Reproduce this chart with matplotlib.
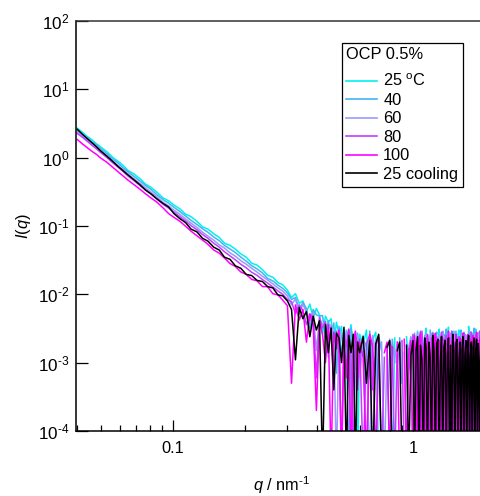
import numpy as np
import matplotlib
matplotlib.use("Agg")
import matplotlib.pyplot as plt
from matplotlib.ticker import FixedLocator, FixedFormatter, NullLocator, LogLocator, NullFormatter

plt.rcParams['font.family'] = ['Liberation Sans', 'DejaVu Sans']
plt.rcParams['mathtext.fontset'] = 'custom'
plt.rcParams['mathtext.rm'] = 'Liberation Sans'
plt.rcParams['mathtext.it'] = 'Liberation Sans:italic'
plt.rcParams['mathtext.bf'] = 'Liberation Sans:bold'

# ---------------- data ----------------
q_low = [0.040, 0.042, 0.044, 0.046, 0.048, 0.050, 0.053, 0.056, 0.059, 0.062,
         0.065, 0.069, 0.073, 0.077, 0.081, 0.086, 0.091, 0.096, 0.101, 0.107,
         0.113, 0.119, 0.126, 0.133, 0.140, 0.148, 0.156, 0.164, 0.173, 0.182,
         0.192, 0.202, 0.213, 0.224, 0.236, 0.248, 0.261, 0.274, 0.287]
q_mid = [0.300, 0.312, 0.324, 0.336, 0.348, 0.360, 0.372, 0.384, 0.396, 0.408,
         0.420, 0.432, 0.444, 0.456, 0.468, 0.480, 0.492, 0.504, 0.516, 0.528,
         0.540, 0.552, 0.564, 0.576, 0.588,
         0.60, 0.62, 0.64, 0.66, 0.68, 0.70, 0.72, 0.74, 0.76, 0.78,
         0.80, 0.82, 0.84, 0.86, 0.88, 0.90, 0.92, 0.94, 0.96, 0.98]
q_tail = [1.000, 1.015, 1.030, 1.045, 1.060, 1.075, 1.090, 1.105, 1.120, 1.135, 1.150, 1.165, 1.180,
          1.195, 1.210, 1.225, 1.240, 1.255, 1.270, 1.285, 1.300, 1.315, 1.330, 1.345, 1.360, 1.375,
          1.390, 1.405, 1.420, 1.435, 1.450, 1.465, 1.480, 1.495, 1.510, 1.525, 1.540, 1.555, 1.570,
          1.585, 1.600, 1.615, 1.630, 1.645, 1.660, 1.675, 1.690, 1.705, 1.720, 1.735, 1.750, 1.765,
          1.780, 1.795, 1.810, 1.825, 1.840, 1.855, 1.870, 1.885, 1.900, 1.915, 1.930, 1.945, 1.960]

labels = ['25 $^{\\mathrm{o}}$C', '40', '60', '80', '100', '25 cooling']
colors = ['#00f0f0', '#45b4f0', '#9999ff', '#c040ff', '#ff00ff', '#000000']
legend_title = 'OCP 0.5%'

# I(q) in the low-q (smooth) region
I_low_25 = [2.70, 2.35, 2.04, 1.83, 1.60, 1.44, 1.23, 1.02, 0.89, 0.77,
            0.65, 0.575, 0.49, 0.41, 0.37, 0.31, 0.258, 0.234, 0.203, 0.178,
            0.149, 0.137, 0.117, 0.097, 0.090, 0.077, 0.068, 0.056, 0.052, 0.046,
            0.039, 0.035, 0.0285, 0.0268, 0.0230, 0.0190, 0.0178, 0.0148, 0.0138]
I_low_40 = [2.57, 2.21, 1.97, 1.70, 1.54, 1.35, 1.15, 0.96, 0.84, 0.71,
            0.625, 0.53, 0.455, 0.39, 0.345, 0.285, 0.243, 0.216, 0.188, 0.163,
            0.140, 0.121, 0.105, 0.091, 0.081, 0.069, 0.061, 0.052, 0.046, 0.041,
            0.0350, 0.0306, 0.0262, 0.0236, 0.0206, 0.0171, 0.0157, 0.0136, 0.0122]
I_low_60 = [2.40, 2.08, 1.80, 1.62, 1.44, 1.26, 1.07, 0.91, 0.765, 0.67,
            0.58, 0.49, 0.42, 0.36, 0.315, 0.265, 0.222, 0.197, 0.171, 0.148,
            0.127, 0.110, 0.095, 0.081, 0.071, 0.062, 0.053, 0.0475, 0.0405, 0.0362,
            0.0310, 0.0276, 0.0240, 0.0212, 0.0184, 0.0162, 0.0142, 0.0124, 0.0111]
I_low_80 = [2.26, 1.99, 1.74, 1.52, 1.35, 1.19, 1.01, 0.85, 0.73, 0.63,
            0.54, 0.46, 0.39, 0.338, 0.295, 0.247, 0.208, 0.183, 0.160, 0.137,
            0.118, 0.101, 0.088, 0.075, 0.066, 0.056, 0.049, 0.042, 0.0365, 0.0320,
            0.0275, 0.0245, 0.0210, 0.0190, 0.0165, 0.0146, 0.0128, 0.0112, 0.0100]
I_low_100 = [1.84, 1.59, 1.40, 1.24, 1.12, 0.99, 0.86, 0.73, 0.625, 0.54,
             0.47, 0.40, 0.345, 0.295, 0.258, 0.222, 0.184, 0.152, 0.134, 0.117,
             0.099, 0.084, 0.072, 0.062, 0.054, 0.0445, 0.0400, 0.0340, 0.0282, 0.0256,
             0.0212, 0.0196, 0.0165, 0.0158, 0.0130, 0.0129, 0.0102, 0.0098, 0.0082]
I_low_25c = [2.60, 2.20, 1.90, 1.66, 1.45, 1.26, 1.06, 0.89, 0.75, 0.645,
             0.56, 0.47, 0.40, 0.335, 0.296, 0.248, 0.214, 0.190, 0.152, 0.128,
             0.112, 0.090, 0.082, 0.066, 0.060, 0.049, 0.0445, 0.0350, 0.0325, 0.0262,
             0.0240, 0.0196, 0.0188, 0.0160, 0.0154, 0.0130, 0.0124, 0.0098, 0.0095]

# I(q) in the mid-q (noisy) region, in units of 1e-3
I_mid_25 = [11.5, 9.0, 10.2, 7.4, 8.0, 5.6, 7.2, 4.5, 6.2, 5.0,
            2.6, 4.8, 3.9, 4.4, 1.8, 3.9, 2.6, 3.4, 0.9, 3.0,
            2.2, 3.6, 1.4, 2.8, 0.03,
            2.6, 1.8, 3.0, 0.6, 2.2, 2.8, 0.03, -0.5, 2.0, -1.0,
            1.6, 0.03, 2.3, -0.4, -0.8, 1.9, -1.2, 2.4, 0.8, 2.2]
I_mid_40 = [10.5, 8.4, 9.0, 6.0, 7.6, 6.2, 3.2, 6.0, 5.0, 4.8,
            4.9, 2.4, 4.1, 2.6, 3.8, 0.7, 3.4, 1.2, 3.0, 2.0,
            0.03, 3.2, 2.1, 0.8, 2.7,
            1.2, 2.5, 0.03, 2.9, 1.4, 0.03, 2.4, 1.5, -0.7, 1.8,
            0.03, 2.2, 1.0, -0.9, 2.3, 0.5, -0.6, 1.9, -0.4, 1.4]
I_mid_60 = [9.5, 7.0, 8.6, 5.2, 7.2, 5.5, 4.0, 5.4, 1.5, 4.4,
            3.6, 3.8, 1.2, 3.6, 2.5, 0.03, 3.0, 2.4, 1.6, 2.9,
            1.9, 0.03, 2.6, 1.5, 2.5,
            0.6, 2.3, 1.7, 0.03, 2.5, 1.3, -0.6, 2.0, 0.03, 1.5,
            2.2, -1.1, 1.6, 0.9, 2.0, -0.5, 1.4, 0.03, 1.7, 2.4]
I_mid_80 = [8.4, 7.8, 5.2, 7.0, 5.8, 3.6, 5.2, 4.5, 0.6, 4.6,
            3.2, 4.0, 2.0, 3.3, 0.5, 2.9, 2.2, 0.03, 2.8, 1.7,
            3.0, 1.3, 0.03, 2.6, 1.6,
            2.2, 0.03, 1.9, 2.5, 0.4, 1.8, 2.3, 0.03, 1.2, -0.8,
            2.1, 1.5, 0.03, 1.8, -1.0, 2.1, 0.03, -0.7, 1.6, 0.6]
I_mid_100 = [6.8, 0.5, 7.0, 4.2, 6.0, 2.0, 5.1, 3.6, 0.2, 4.0,
             2.6, 1.0, 3.6, 0.03, 2.8, 1.6, 3.0, 0.03, 2.6, 0.6,
             3.1, 0.03, 2.0, 2.9, 0.4,
             2.0, 1.2, 0.03, 2.6, 1.7, 0.03, 2.3, -0.5, 1.4, 2.0,
             0.03, 1.7, -0.8, 2.0, 0.03, -1.0, 2.2, 0.03, 1.3, 2.1]
I_mid_25c = [8.0, 6.0, 1.1, 6.4, 4.4, 5.6, 2.4, 4.8, 3.0, 4.1,
             0.03, 3.6, 1.4, 3.2, 0.4, 2.7, 2.3, 1.0, 3.3, 0.03,
             2.5, 1.4, 2.6, 0.03, 2.0,
             1.4, 2.4, 0.5, 2.1, 0.03, 1.9, 2.6, 0.03, -0.6, 1.7,
             2.1, 0.03, -0.9, 1.5, 2.0, 0.03, -0.5, 1.8, 0.03, 1.3]

# I(q) in the high-q tail, in units of 1e-3
I_tail_25 = [2.4, 0.03, 1.3, 2.9, 1.8, 0.03, 2.6, 1.0, 2.2, 3.2, 0.03, 1.7, 2.5,
             0.6, 2.8, 1.9, 0.03, 2.3, 1.2, 3.1, 0.03, 2.0, 2.7, 1.4, 0.03, 2.5,
             1.8, 3.3, 0.5, 2.2, 0.03, 1.6, 2.9, 2.1, 0.03, 1.1, 2.6, 3.0, 0.03,
             2.3, 1.5, 0.03, 2.8, 1.9, 0.8, 2.5, 0.03, 3.4, 1.7, 2.2, 0.03, 1.3,
             2.7, 0.03, 2.0, 3.1, 1.2, 0.03, 2.4, 1.8, 2.9, 0.03, 1.6, 2.6, 3.5]
I_tail_40 = [1.6, 2.7, 0.03, 2.1, 1.1, 2.9, 0.03, 1.8, 2.5, 0.7, 2.2, 0.03, 3.0,
             1.4, 2.3, 0.03, 1.9, 2.8, 0.03, 1.5, 2.4, 0.9, 0.03, 2.6, 1.7, 3.1,
             0.03, 2.0, 1.3, 2.7, 0.03, 2.2, 0.03, 1.6, 2.9, 1.0, 2.4, 0.03, 1.8,
             3.0, 0.03, 2.1, 1.2, 2.6, 0.03, 1.9, 2.3, 0.03, 1.4, 2.8, 0.6, 2.2,
             0.03, 3.2, 1.5, 2.0, 0.03, 2.7, 1.1, 0.03, 2.4, 1.9, 0.03, 3.3, 2.0]
I_tail_60 = [0.03, 2.2, 1.6, 2.8, 0.03, 1.2, 2.4, 0.03, 1.9, 2.6, 1.0, 0.03, 2.1,
             2.7, 0.03, 1.5, 2.3, 0.8, 0.03, 2.5, 1.7, 0.03, 2.9, 1.3, 2.0, 0.03,
             2.4, 0.03, 1.8, 2.6, 1.1, 0.03, 2.2, 2.8, 0.03, 1.6, 0.03, 2.3, 1.4,
             0.03, 2.7, 1.9, 0.03, 1.2, 2.5, 0.03, 2.1, 1.7, 2.9, 0.03, 1.5, 2.4,
             1.0, 0.03, 2.6, 1.8, 0.03, 2.2, 0.03, 2.8, 1.4, 0.03, 2.1, 2.5, 1.6]
I_tail_80 = [2.6, 1.4, 0.03, 2.3, 1.8, 0.03, 2.9, 1.2, 0.03, 2.1, 2.5, 0.7, 0.03,
             1.9, 2.7, 0.03, 1.3, 2.4, 2.0, 0.03, 1.6, 2.8, 0.03, 2.2, 0.9, 2.5,
             0.03, 1.7, 2.3, 0.03, 2.9, 1.4, 2.0, 0.03, 2.6, 1.1, 0.03, 2.4, 1.8,
             2.2, 0.03, 1.5, 2.7, 0.03, 2.0, 1.2, 0.03, 2.5, 1.9, 0.03, 2.8, 1.3,
             0.03, 2.3, 1.7, 0.03, 2.6, 1.0, 2.1, 0.03, 2.9, 1.6, 0.03, 2.2, 2.7]
I_tail_100 = [0.03, 2.5, 1.1, 0.03, 2.2, 2.8, 0.03, 1.5, 2.0, 0.03, 2.6, 1.3, 0.03,
              2.3, 0.03, 1.8, 2.7, 0.03, 1.4, 2.1, 0.03, 2.5, 0.8, 0.03, 2.2, 1.6,
              0.03, 2.9, 1.2, 0.03, 2.0, 2.4, 0.03, 1.5, 2.6, 0.03, 1.9, 0.03, 2.3,
              1.1, 0.03, 2.7, 1.6, 0.03, 2.1, 0.03, 2.6, 1.3, 0.03, 2.2, 1.8, 0.03,
              2.5, 0.9, 0.03, 2.0, 2.8, 0.03, 1.4, 0.03, 2.3, 1.7, 0.03, 2.6, 2.0]
I_tail_25c = [2.1, 0.03, 1.5, 2.4, 0.03, 1.8, 1.1, 0.03, 2.3, 1.6, 0.03, 2.0, 1.2,
              0.03, 2.5, 1.4, 0.03, 1.9, 2.2, 0.03, 1.0, 2.4, 0.03, 1.7, 2.1, 0.03,
              1.3, 2.3, 0.03, 1.8, 0.03, 2.6, 1.5, 0.03, 1.9, 2.2, 0.03, 1.1, 2.0,
              0.03, 1.6, 2.4, 0.03, 1.3, 2.1, 0.03, 1.8, 2.5, 0.03, 1.2, 2.0, 0.03,
              1.7, 2.3, 0.03, 1.4, 2.2, 0.03, 1.9, 1.0, 0.03, 2.4, 1.6, 0.03, 2.1]

low_sets = [I_low_25, I_low_40, I_low_60, I_low_80, I_low_100, I_low_25c]
mid_sets = [I_mid_25, I_mid_40, I_mid_60, I_mid_80, I_mid_100, I_mid_25c]
tail_sets = [I_tail_25, I_tail_40, I_tail_60, I_tail_80, I_tail_100, I_tail_25c]

# ---------------- figure ----------------
W, H = 481, 496
fig = plt.figure(figsize=(W / 100, H / 100), dpi=100)
L, R, T, B = 76, 481, 21, 431
ax = fig.add_axes([L / W, 1 - B / H, (R - L) / W, (B - T) / H])

q = np.array(q_low + q_mid + q_tail)
for lo, mi, ta, c, lab in zip(low_sets, mid_sets, tail_sets, colors, labels):
    I = np.concatenate([np.array(lo), np.array(mi) * 1e-3, np.array(ta) * 1e-3])
    ax.plot(q, I, color=c, lw=1.1, label=lab)

ax.set_xscale('log')
ax.set_yscale('log', nonpositive='mask')
ax.set_xlim(0.0395, 1.92)
ax.set_ylim(1e-4, 1e2)

for s in ['left', 'bottom', 'top']:
    ax.spines[s].set_linewidth(1.1)
    ax.spines[s].set_color('black')
ax.spines['top'].set_color('#333333')
ax.spines['right'].set_visible(False)

ylabels = ['$10^{\\text{-}4}$', '$10^{\\text{-}3}$', '$10^{\\text{-}2}$', '$10^{\\text{-}1}$',
           '$10^{0}$', '$10^{1}$', '$10^{2}$']
ax.yaxis.set_major_locator(FixedLocator([1e-4, 1e-3, 1e-2, 1e-1, 1e0, 1e1, 1e2]))
ax.yaxis.set_major_formatter(FixedFormatter(ylabels))
ax.yaxis.set_minor_locator(NullLocator())
ax.xaxis.set_major_locator(FixedLocator([0.1, 1.0]))
ax.xaxis.set_major_formatter(FixedFormatter(['0.1', '1']))
ax.xaxis.set_minor_locator(LogLocator(base=10, subs=[2, 3, 4, 5, 6, 7, 8, 9]))
ax.xaxis.set_minor_formatter(NullFormatter())

ax.tick_params(axis='y', which='major', direction='in', length=8.8, width=0.9,
               pad=5.0, labelsize=12.3, right=False, color='black')
ax.tick_params(axis='x', which='major', direction='in', length=8.0, width=0.9,
               pad=7.5, labelsize=11.8, top=False)
ax.tick_params(axis='x', which='minor', direction='in', length=4.3, width=0.9, top=False)

fig.text(281.5 / W, 1 - 491.5 / H, r'$\mathit{q}$ / nm$^{\text{-}1}$', ha='center', va='baseline', fontsize=11.8)
fig.text(23.5 / W, 1 - 226 / H, r'$\mathit{I}$($\mathit{q}$)', ha='center', va='center',
         rotation=90, fontsize=11.8)

leg = ax.legend(loc='upper left', bbox_to_anchor=(341.7 / W, 1 - 42.7 / H),
                bbox_transform=fig.transFigure, borderaxespad=0, fancybox=False,
                edgecolor='black', framealpha=1, fontsize=11.8, title=legend_title,
                title_fontsize=11.8, alignment='left', handlelength=1.85,
                handletextpad=0.4, labelspacing=0.215, borderpad=0.28)
leg.get_frame().set_linewidth(0.9)
leg._legend_box.sep = 7.5
for h in leg.get_lines():
    h.set_linewidth(1.2)

fig.savefig('out.png', dpi=100)
